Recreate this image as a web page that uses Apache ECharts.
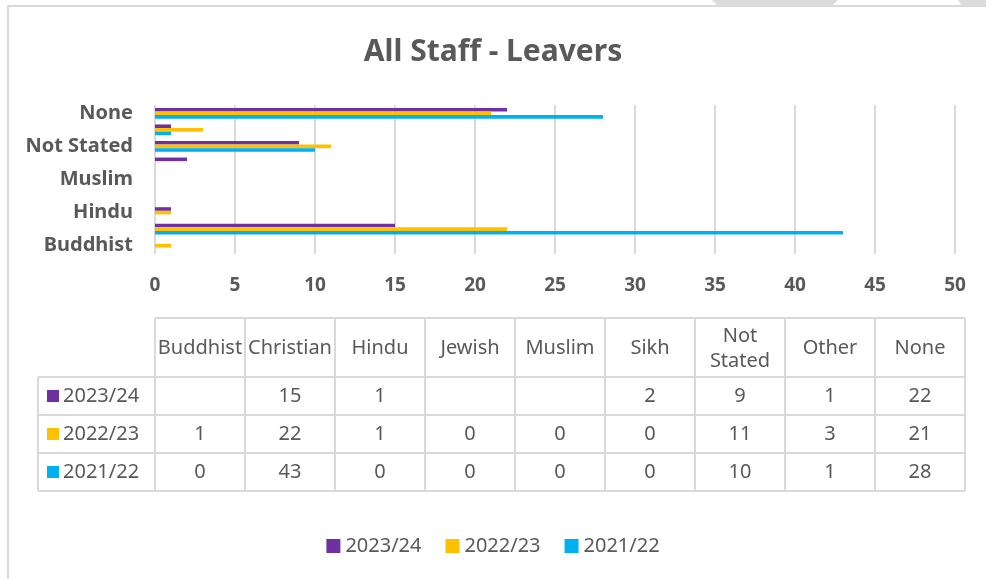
<!DOCTYPE html>
<html>
<head>
<meta charset="utf-8">
<script src="https://cdn.jsdelivr.net/npm/echarts@6/dist/echarts.min.js"></script>
<style>
  html, body { margin: 0; padding: 0; background: #fff; }
  #main { width: 986px; height: 579px; }
</style>
</head>
<body>
<div id="main"></div>
<script>
// categories, bottom to top on the chart
var categories = ['Buddhist', 'Christian', 'Hindu', 'Jewish', 'Muslim', 'Sikh', 'Not Stated', 'Other', 'None'];
var headerLabels = ['Buddhist', 'Christian', 'Hindu', 'Jewish', 'Muslim', 'Sikh', 'Not\nStated', 'Other', 'None'];
var seriesNames = ['2023/24', '2022/23', '2021/22'];
var colors = ['#7030A0', '#FFC000', '#00B0F0'];
var y2023 = [null, 15, 1, null, null, 2, 9, 1, 22];
var y2022 = [1, 22, 1, 0, 0, 0, 11, 3, 21];
var y2021 = [0, 43, 0, 0, 0, 0, 10, 1, 28];
var xTicks = [0, 5, 10, 15, 20, 25, 30, 35, 40, 45, 50];

var FONT = "'Noto Sans', sans-serif";
var TXT = '#595959';
var LINE = '#d9d9d9';

var myChart = echarts.init(document.getElementById('main'));

// data table drawn with graphic elements
var tabLeft = 155, colW = 90, labLeft = 38;
var headTop = 318, headH = 59, rowH = 38;
var tabRight = tabLeft + colW * categories.length;
var rows = [y2023, y2022, y2021];
var graphics = [];

// outer frame
graphics.push({ type: 'rect', shape: { x: 8, y: 6, width: 1000, height: 620 }, style: { fill: 'none', stroke: LINE, lineWidth: 2 }, silent: true });
graphics.push({ type: 'polygon', shape: { points: [[712, 0], [838, 0], [832, 6], [718, 6]] }, style: { fill: '#dcdcdc' }, silent: true });
graphics.push({ type: 'polygon', shape: { points: [[958, 0], [986, 0], [986, 6], [962, 6]] }, style: { fill: '#dcdcdc' }, silent: true });

var lineStyle = { stroke: LINE, lineWidth: 2 };
var bottom = headTop + headH + rowH * rows.length;
// horizontal lines
graphics.push({ type: 'line', shape: { x1: tabLeft, y1: headTop, x2: tabRight, y2: headTop }, style: lineStyle });
for (var r = 0; r <= rows.length; r++) {
  var yy = headTop + headH + rowH * r;
  graphics.push({ type: 'line', shape: { x1: labLeft, y1: yy, x2: tabRight, y2: yy }, style: lineStyle });
}
// vertical lines
graphics.push({ type: 'line', shape: { x1: labLeft, y1: headTop + headH, x2: labLeft, y2: bottom }, style: lineStyle });
for (var c = 0; c <= categories.length; c++) {
  var xx = tabLeft + colW * c;
  graphics.push({ type: 'line', shape: { x1: xx, y1: headTop, x2: xx, y2: bottom }, style: lineStyle });
}
// header texts
headerLabels.forEach(function (h, i) {
  graphics.push({
    type: 'text', x: tabLeft + colW * i + colW / 2, y: headTop + headH / 2 + 1,
    style: { text: h, font: '20px ' + FONT, fill: TXT, align: 'center', verticalAlign: 'middle', lineHeight: 25 }
  });
});
// rows
rows.forEach(function (vals, r) {
  var cy = headTop + headH + rowH * r + rowH / 2;
  graphics.push({ type: 'rect', shape: { x: 47, y: cy - 6, width: 12, height: 12 }, style: { fill: colors[r] } });
  graphics.push({
    type: 'text', x: 63, y: cy,
    style: { text: seriesNames[r], font: '20px ' + FONT, fill: TXT, align: 'left', verticalAlign: 'middle' }
  });
  vals.forEach(function (v, i) {
    if (v === null) return;
    graphics.push({
      type: 'text', x: tabLeft + colW * i + colW / 2, y: cy,
      style: { text: String(v), font: '20px ' + FONT, fill: TXT, align: 'center', verticalAlign: 'middle' }
    });
  });
});

myChart.setOption({
  animation: false,
  backgroundColor: '#fff',
  title: {
    text: 'All Staff - Leavers',
    left: 'center',
    top: 32,
    textStyle: { fontFamily: FONT, fontSize: 30, fontWeight: 'bold', color: TXT }
  },
  legend: {
    data: seriesNames,
    bottom: 18,
    left: 'center',
    icon: 'rect',
    itemWidth: 14,
    itemHeight: 14,
    itemGap: 24,
    textStyle: { fontFamily: FONT, fontSize: 20, color: TXT }
  },
  grid: { left: 155, right: 31, top: 105, bottom: 325, containLabel: false },
  xAxis: {
    type: 'value',
    min: 0,
    max: 50,
    interval: 5,
    axisLine: { show: false },
    axisTick: { show: false },
    splitLine: { lineStyle: { color: LINE, width: 2 } },
    axisLabel: { margin: 22, fontFamily: FONT, fontSize: 19, fontWeight: 'bold', color: TXT,
      formatter: function (v) { return xTicks.indexOf(v) >= 0 ? String(v) : ''; } }
  },
  yAxis: {
    type: 'category',
    data: categories,
    axisLine: { show: false },
    axisTick: { show: false },
    axisLabel: { interval: 1, margin: 22, fontFamily: FONT, fontSize: 20, fontWeight: 'bold', color: TXT }
  },
  // purple sits on top of each group, then yellow, then blue
  series: [
    { name: '2023/24', type: 'bar', data: y2023, itemStyle: { color: colors[0] }, barWidth: 3.6, barGap: '0%' },
    { name: '2022/23', type: 'bar', data: y2022, itemStyle: { color: colors[1] }, barWidth: 3.6, barGap: '0%' },
    { name: '2021/22', type: 'bar', data: y2021, itemStyle: { color: colors[2] }, barWidth: 3.6, barGap: '0%' }
  ],
  graphic: graphics
});
</script>
</body>
</html>
